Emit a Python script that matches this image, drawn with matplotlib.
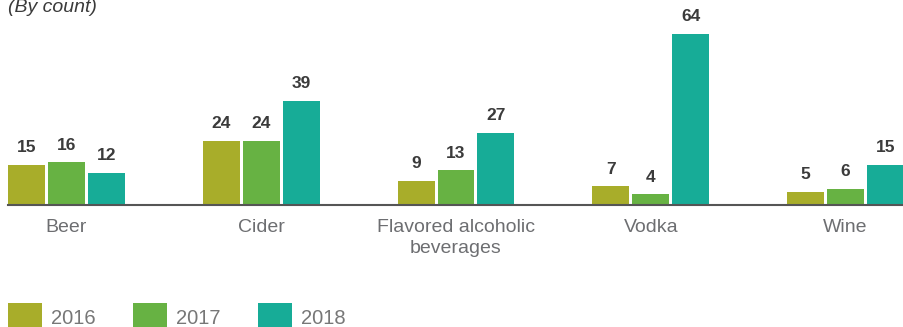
import matplotlib
matplotlib.use('Agg')
import matplotlib.pyplot as plt
import numpy as np
from matplotlib.patches import Rectangle

categories = ['Beer', 'Cider', 'Flavored alcoholic\nbeverages', 'Vodka', 'Wine']
years = ['2016', '2017', '2018']
counts_2016 = [15, 24, 9, 7, 5]
counts_2017 = [16, 24, 13, 4, 6]
counts_2018 = [12, 39, 27, 64, 15]
series = [counts_2016, counts_2017, counts_2018]
colors = ['#a8ad2a', '#67b243', '#17ac97']

FONT = ['Liberation Sans', 'DejaVu Sans']

W, H = 904, 327
fig = plt.figure(figsize=(W / 100, H / 100), dpi=100)
ax = fig.add_axes([8 / W, 122 / H, 896 / W, 205 / H])

step = 40 / 195
bar_w = 37 / 195
x = np.arange(len(categories))
for k, (vals, c) in enumerate(zip(series, colors)):
    pos = x + (k - 1) * step
    bars = ax.bar(pos, vals, width=bar_w, color=c, linewidth=0)
    for b, v in zip(bars, vals):
        ax.annotate(str(v), (b.get_x() + b.get_width() / 2, v),
                    xytext=(0, 7), textcoords='offset points',
                    ha='center', va='bottom', fontsize=12.5, fontweight='bold',
                    color='#3b3b3b', family=FONT)

ax.set_xlim(-0.3, 4.3)
ax.set_ylim(0, 76.7)
ax.set_xticks(x)
ax.set_xticklabels(categories, fontsize=14, color='#6d6e71',
                   family=FONT, linespacing=1.3)
ax.tick_params(axis='x', length=0, pad=10)
ax.set_yticks([])
for s in ['top', 'right', 'left']:
    ax.spines[s].set_visible(False)
ax.spines['bottom'].set_color('#555555')
ax.spines['bottom'].set_linewidth(1.5)
ax.patch.set_visible(False)

fig.text(8 / W, 1 - 12 / H, '(By count)', fontsize=14, style='italic',
         color='#3a3a3a', family=FONT, ha='left', va='baseline')

# legend: colored squares followed by year labels
for k, (yr, c) in enumerate(zip(years, colors)):
    x0 = 8 + k * 125
    fig.add_artist(Rectangle((x0 / W, 0), 34 / W, 24 / H, color=c,
                             transform=fig.transFigure, linewidth=0))
    fig.text((x0 + 43) / W, 3 / H, yr, fontsize=14.5, color='#777777',
             family=FONT, ha='left', va='baseline')

fig.savefig('out.png', dpi=100)
